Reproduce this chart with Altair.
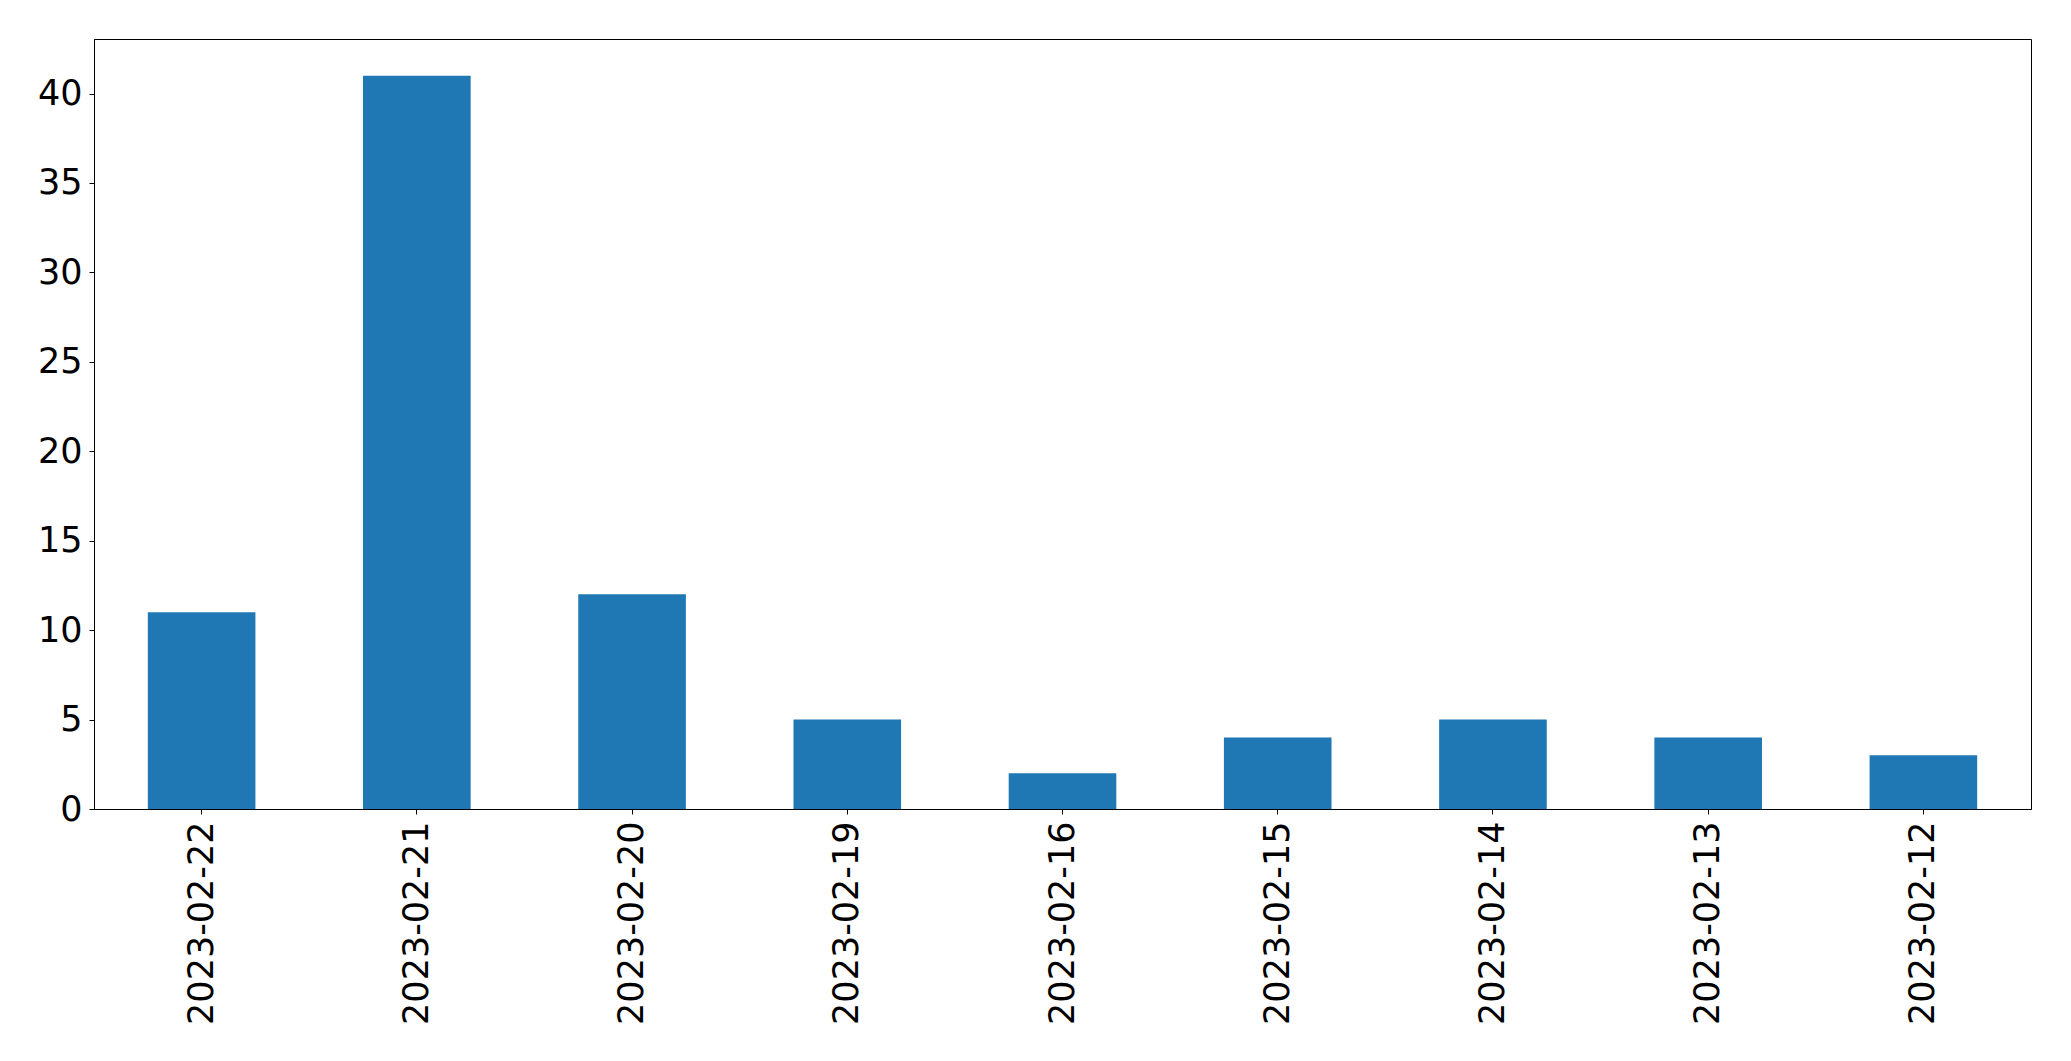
import altair as alt
import pandas as pd

dates = ["2023-02-22", "2023-02-21", "2023-02-20", "2023-02-19", "2023-02-16",
         "2023-02-15", "2023-02-14", "2023-02-13", "2023-02-12"]
counts = [11, 41, 12, 5, 2, 4, 5, 4, 3]
y_ticks = [0, 5, 10, 15, 20, 25, 30, 35, 40]

df = pd.DataFrame({"date": dates, "count": counts})

FONT = "DejaVu Sans"
FS = 35

chart = alt.Chart(df).mark_bar(color="#1f77b4").encode(
    x=alt.X("date:N", sort=dates, title=None,
            scale=alt.Scale(paddingInner=0.5, paddingOuter=0.25),
            axis=alt.Axis(labelAngle=-90, labelFontSize=FS, labelFont=FONT,
                          labelColor="black", tickColor="black", tickSize=5,
                          tickWidth=1, domainColor="black", domainWidth=1,
                          labelPadding=7, labelLimit=0, grid=False)),
    y=alt.Y("count:Q", title=None,
            scale=alt.Scale(domain=[0, 43.05], nice=False, zero=True),
            axis=alt.Axis(values=y_ticks, labelFontSize=FS, labelFont=FONT,
                          labelColor="black", tickColor="black", tickSize=5,
                          tickWidth=1, domainColor="black", domainWidth=1,
                          labelPadding=7, grid=False)),
).properties(
    width=1937,
    height=770,
    autosize=alt.AutoSizeParams(type="none"),
    padding={"left": 86, "top": 31, "right": 30, "bottom": 230},
).configure_view(
    stroke="black", strokeWidth=1
)

chart.save("out.html", embed_options={"renderer": "svg", "actions": False})
